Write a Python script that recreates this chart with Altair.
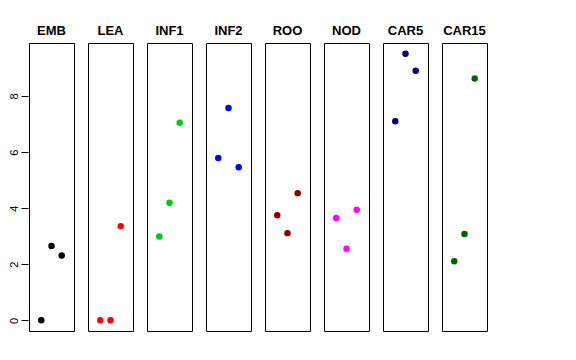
import altair as alt
import pandas as pd

panels = ["EMB", "LEA", "INF1", "INF2", "ROO", "NOD", "CAR5", "CAR15"]
colors = ["#000000", "#FF0000", "#00CD00", "#0000FF", "#8B0000", "#FF00FF", "#000080", "#006400"]
positions = [1, 2, 3]
emb = [0.0, 2.65, 2.31]
lea = [0.0, 0.0, 3.36]
inf1 = [2.99, 4.19, 7.05]
inf2 = [5.79, 7.57, 5.46]
roo = [3.75, 3.11, 4.53]
nod = [3.65, 2.55, 3.94]
car5 = [7.10, 9.51, 8.90]
car15 = [2.11, 3.08, 8.62]
y_ticks = [0, 2, 4, 6, 8]

series = [emb, lea, inf1, inf2, roo, nod, car5, car15]
rows = []
for p, vals in zip(panels, series):
    for xi, v in zip(positions, vals):
        rows.append({"panel": p, "idx": xi, "value": v})
df = pd.DataFrame(rows)

base = alt.Chart(df).mark_circle(size=42, opacity=1).encode(
    x=alt.X("idx:Q", axis=None, scale=alt.Scale(domain=[-0.2, 4.2], nice=False, zero=False)),
    y=alt.Y("value:Q", title=None,
            scale=alt.Scale(domain=[-0.38, 9.89], nice=False, zero=False),
            axis=alt.Axis(values=y_ticks, grid=False, domain=False, tickSize=7,
                          tickColor="#000000", labelAngle=-90, labelFontSize=11,
                          labelColor="#000000", labelFont="Liberation Sans", labelPadding=2)),
    color=alt.Color("panel:N", scale=alt.Scale(domain=panels, range=colors), legend=None),
).properties(width=45, height=288)

chart = base.facet(
    column=alt.Column("panel:N", sort=panels, title=None,
                      header=alt.Header(labelFontWeight="bold", labelFontSize=13,
                                        labelFont="Liberation Sans", labelColor="#000000",
                                        labelPadding=4)),
    spacing=12,
).configure_view(stroke="#000000", strokeWidth=1).properties(
    background="#ffffff",
    padding={"left": 0, "top": 17, "right": 5, "bottom": 5},
)

chart.save("out.html", embed_options={"renderer": "svg", "actions": False})
